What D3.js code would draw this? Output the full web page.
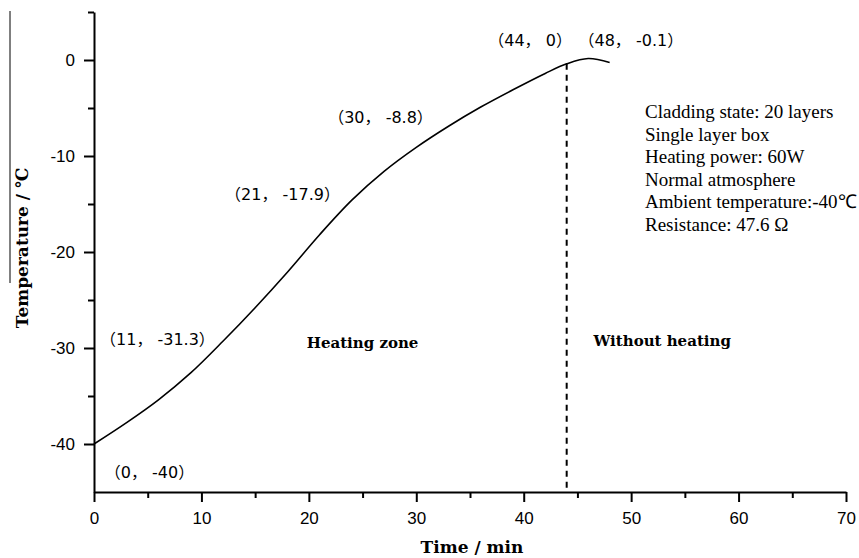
<!DOCTYPE html>
<html>
<head>
<meta charset="utf-8"/>
<script src="https://cdn.jsdelivr.net/npm/d3@7"></script>
<style>
  body { margin: 0; background: #fff; }
  .tick text { font-family: "Liberation Sans", Arial, sans-serif; font-size: 17px; fill: #000; }
  .lbl { font-family: "DejaVu Serif", serif; font-weight: bold; font-size: 17px; }
  .ann { font-family: "DejaVu Sans", "Noto Sans CJK SC", sans-serif; font-size: 16px; }
  .info { font-family: "Liberation Serif", "Times New Roman", serif; font-size: 19px; }
</style>
</head>
<body>
<svg id="chart" width="859" height="558"></svg>
<script>
// temperature curve
var time = [0, 3, 6, 9, 12, 15, 18, 21, 24, 27, 30, 33, 36, 39, 42, 44, 46, 48];
var temp = [-40, -37.8, -35.4, -32.6, -29.3, -25.8, -22.1, -18.2, -14.6, -11.6, -9.1, -6.9, -4.9, -3.1, -1.4, -0.4, 0.15, -0.25];

var xMajor = [0, 10, 20, 30, 40, 50, 60, 70];
var yMajor = [0, -10, -20, -30, -40];

var annText = ["（0， -40）", "（11， -31.3）", "（21， -17.9）", "（30， -8.8）", "（44， 0）", "（48， -0.1）"];
var annX = [1.0, 0.56, 12.2, 21.8, 36.7, 45.1];
var annY = [-43.5, -29.7, -14.6, -6.55, 1.5, 1.5];

var zoneText = ["Heating zone", "Without heating"];
var zoneX = [19.8, 46.5];
var zoneY = [-30.0, -29.8];

var infoLines = ["Cladding state: 20 layers", "Single layer box", "Heating power: 60W",
                 "Normal atmosphere", "Ambient temperature:-40\u2103", "Resistance: 47.6 \u03A9"];

var heatEnd = 44;

var svg = d3.select("#chart");
var x = d3.scaleLinear().domain([0, 70]).range([94, 846]);
var y = d3.scaleLinear().domain([-45, 5]).range([492, 12]);

// stray rule at the left edge of the scan
svg.append("line").attr("x1", 10).attr("x2", 10).attr("y1", 11).attr("y2", 283)
   .attr("stroke", "#000").attr("stroke-width", 1);

// minor ticks
svg.append("g").attr("transform", "translate(0,492)")
   .call(d3.axisBottom(x).tickValues(d3.range(5, 70, 10)).tickSize(6).tickFormat(""))
   .call(function(g){ g.select(".domain").remove(); });
svg.append("g").attr("transform", "translate(94,0)")
   .call(d3.axisLeft(y).tickValues([5, -5, -15, -25, -35]).tickSize(6).tickFormat(""))
   .call(function(g){ g.select(".domain").remove(); });

// major axes
svg.append("g").attr("transform", "translate(0,492)")
   .call(d3.axisBottom(x).tickValues(xMajor).tickSize(10).tickSizeOuter(0).tickPadding(10).tickFormat(String));
svg.append("g").attr("transform", "translate(94,0)")
   .call(d3.axisLeft(y).tickValues(yMajor).tickSize(10).tickSizeOuter(0).tickPadding(9).tickFormat(String));

svg.selectAll(".domain, .tick line").attr("stroke", "#000").attr("stroke-width", 2);

// curve
var pts = time.map(function(t, i){ return [t, temp[i]]; });
svg.append("path").datum(pts)
   .attr("fill", "none").attr("stroke", "#000").attr("stroke-width", 1.6)
   .attr("d", d3.line().x(function(d){ return x(d[0]); }).y(function(d){ return y(d[1]); })
                       .curve(d3.curveCatmullRom.alpha(0.5)));

// end of heating
svg.append("line")
   .attr("x1", x(heatEnd)).attr("x2", x(heatEnd))
   .attr("y1", y(-0.4)).attr("y2", y(-45))
   .attr("stroke", "#000").attr("stroke-width", 2).attr("stroke-dasharray", "6,5");

// point labels
svg.selectAll(".ann").data(annText).enter().append("text")
   .attr("class", "ann")
   .attr("x", function(d, i){ return x(annX[i]); })
   .attr("y", function(d, i){ return y(annY[i]); })
   .text(function(d){ return d; });

svg.selectAll(".zone").data(zoneText).enter().append("text")
   .attr("class", "lbl").style("font-size", "15px")
   .attr("x", function(d, i){ return x(zoneX[i]); })
   .attr("y", function(d, i){ return y(zoneY[i]); })
   .text(function(d){ return d; });

// test conditions
svg.append("text").attr("class", "info")
   .selectAll("tspan").data(infoLines).enter().append("tspan")
   .attr("x", 645).attr("y", function(d, i){ return 118 + i * 22.5; })
   .text(function(d){ return d; });

// axis titles
svg.append("text").attr("class", "lbl").attr("text-anchor", "middle")
   .attr("x", 472).attr("y", 553).text("Time / min");
svg.append("text").attr("class", "lbl").attr("text-anchor", "middle")
   .attr("transform", "translate(28,248) rotate(-90)").text("Temperature / \u2103");
</script>
</body>
</html>
